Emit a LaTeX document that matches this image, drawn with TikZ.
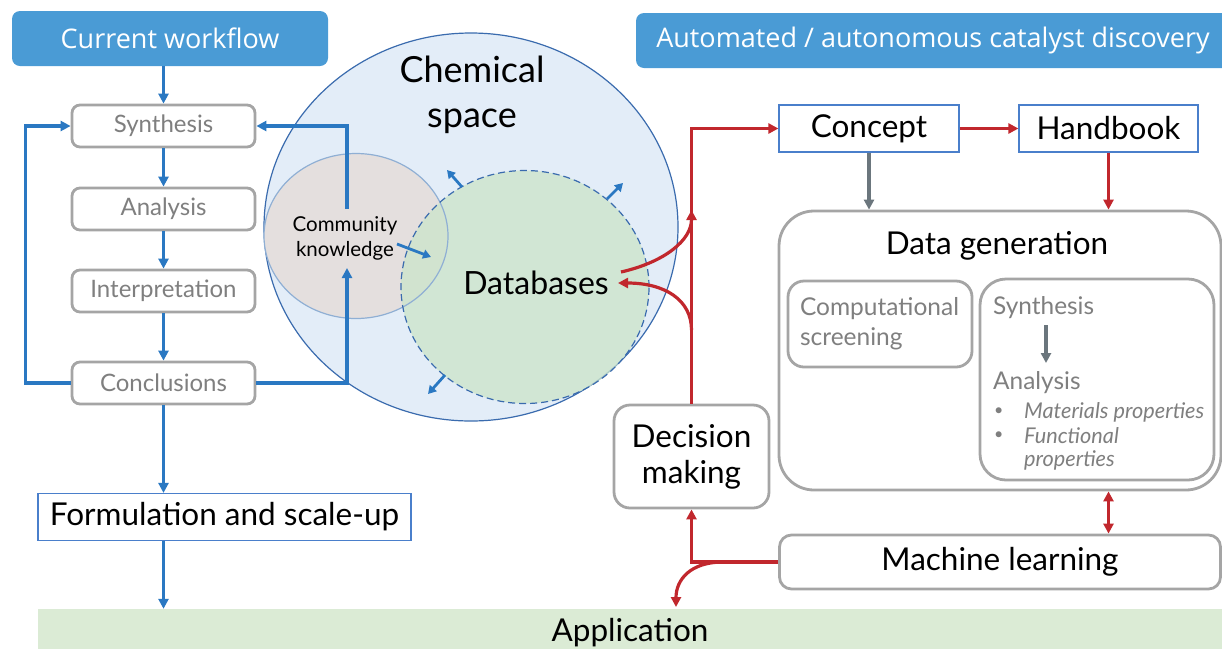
\documentclass[tikz,border=0pt]{standalone}
\usepackage{fontspec}
\setmainfont{Lato}
\newfontfamily\titlefont{Open Sans}
\usetikzlibrary{arrows.meta,shapes.geometric,calc}
\definecolor{titleblue}{HTML}{4A9BD5}
\definecolor{arrowblue}{HTML}{2A78C2}
\definecolor{boxgrey}{HTML}{A5A5A5}
\definecolor{textgrey}{HTML}{7F7F7F}
\definecolor{csfill}{HTML}{E3EDF8}
\definecolor{csborder}{HTML}{3A6BAE}
\definecolor{ckfill}{HTML}{E4DFDE}
\definecolor{ckborder}{HTML}{8FAFD4}
\definecolor{dbfill}{HTML}{CDE5CC}
\definecolor{redarrow}{HTML}{C1272D}
\definecolor{greyarrow}{HTML}{6B767D}
\definecolor{appgreen}{HTML}{DBEBD5}
\definecolor{thinblue}{HTML}{4A7FCB}
\newcommand{\fs}[2]{\fontsize{#1}{#2}\selectfont}
\begin{document}
\begin{tikzpicture}[x=1pt,y=-1pt,
  titlebox/.style={fill=titleblue, draw=none, rounded corners=8pt, text=white, font=\titlefont\fs{27}{32}, inner sep=0pt},
  greybox/.style={draw=boxgrey, line width=2.8pt, rounded corners=8pt, fill=white, text=textgrey, inner sep=0pt, font=\fs{24}{28}},
  bigbox/.style={draw=boxgrey, line width=2.8pt, fill=white, inner sep=0pt, font=\fs{31.5}{36}, align=center},
  thinbox/.style={draw=thinblue, line width=1.2pt, fill=white, inner sep=0pt, font=\fs{31.5}{36}},
  barrow/.style={draw=arrowblue, line width=3.2pt, -{Triangle[length=10pt,width=10pt]}},
  rarrow/.style={draw=redarrow, line width=3.2pt, -{Triangle[length=10pt,width=10pt]}},
  garrow/.style={draw=greyarrow, line width=3.2pt, -{Triangle[length=10pt,width=10pt]}},
  smallarrow/.style={draw=arrowblue, line width=2.8pt, -{Triangle[length=8pt,width=9pt]}},
  plain/.style={inner sep=0pt, anchor=west}
]
\useasboundingbox (0,0) rectangle (1222,649);

% ---------- titles ----------
\node[titlebox, minimum width=316, minimum height=55] (cw) at (170,38.5) {Current workflow};
\begin{scope}
\clip (0,0) rectangle (1222,649);
\node[titlebox, minimum width=594, minimum height=55] (auto) at (933,40.5) {Automated / autonomous catalyst discovery};
\end{scope}

% ---------- chemical space ----------
\node[ellipse, fill=csfill, draw=csborder, line width=1.2pt, minimum width=414, minimum height=388, inner sep=0pt] (cs) at (471,227) {};
\node[ellipse, fill=ckfill, draw=none, minimum width=184, minimum height=165, inner sep=0pt] (ckfill) at (356,236) {};
\node[ellipse, fill=dbfill, fill opacity=0.8, draw=none, minimum width=248, minimum height=233, inner sep=0pt] (dbc) at (525,287) {};
\node[ellipse, draw=ckborder, line width=1.2pt, minimum width=184, minimum height=165, inner sep=0pt] (ck) at (356,236) {};
\node[ellipse, draw=csborder, line width=1.2pt, dashed, dash pattern=on 7pt off 4pt, minimum width=248, minimum height=233, inner sep=0pt] (db) at (525,287) {};

\node[align=center, font=\fs{36}{45}, inner sep=0pt] (cst) at (472,95) {Chemical\\space};
\node[align=center, font=\fs{20.5}{25}, inner sep=0pt] (ckt) at (345,238) {Community\\knowledge};
\node[font=\fs{32}{36}, inner sep=0pt] (dbt) at (536,283) {Databases};

\coordinate (a1s) at (462,187); \coordinate (a1e) at (447,170);
\coordinate (a2s) at (607,199); \coordinate (a2e) at (623,183);
\coordinate (a3s) at (445,375); \coordinate (a3e) at (428,394);
\coordinate (a4s) at (397,244); \coordinate (a4e) at (431,257);
\draw[smallarrow] (a1s) -- (a1e);
\draw[smallarrow] (a2s) -- (a2e);
\draw[smallarrow] (a3s) -- (a3e);
\draw[smallarrow] (a4s) -- (a4e);

% ---------- current workflow ----------
\node[greybox, minimum width=183, minimum height=42] (syn) at (163.5,126) {Synthesis};
\node[greybox, minimum width=183, minimum height=42] (ana) at (163.5,209) {Analysis};
\node[greybox, minimum width=183, minimum height=42] (int) at (163.5,291) {Interpretation};
\node[greybox, minimum width=183, minimum height=42] (con) at (163.5,383) {Conclusions};
\node[thinbox, minimum width=373, minimum height=47] (form) at (224.5,517) {Formulation and scale-up};
\node[fill=appgreen, minimum width=1184, minimum height=40, inner sep=0pt] (app) at (630,629) {};
\node[font=\fs{31.5}{36}, inner sep=0pt] (appt) at (630,632.5) {Application};

\draw[barrow] (syn.north |- cw.south) -- (syn.north);
\draw[barrow] (syn) -- (ana);
\draw[barrow] (ana) -- (int);
\draw[barrow] (int) -- (con);
\draw[barrow] (con.south) -- (con.south |- form.north);
\draw[barrow] (con.south |- form.south) -- (con.south |- app.north);
\draw[barrow] (con.west) -- ++(-45,0) |- (syn.west);
\coordinate (ckin) at (347,268);
\coordinate (ckout) at (347,209);
\draw[barrow] (con.east) -| (ckin);
\draw[barrow] (ckout) |- (syn.east);

% ---------- automated workflow ----------
\node[thinbox, minimum width=180, minimum height=47] (concept) at (869,128.5) {Concept};
\node[thinbox, minimum width=179, minimum height=47] (hb) at (1108.5,128.5) {Handbook};
\node[bigbox, rounded corners=35pt, minimum width=442, minimum height=279] (dg) at (1000,350.5) {};
\node[font=\fs{31.5}{36}, inner sep=0pt] (dgt) at (997,246) {Data generation};
\node[greybox, rounded corners=16pt, minimum width=184, minimum height=86, text width=160, inner xsep=12pt, align=left, font=\fs{24.5}{30}] (comp) at (880,324) {Computational\\screening};
\node[greybox, rounded corners=26pt, minimum width=234, minimum height=201] (sa) at (1097,379.5) {};
\node[plain, text=textgrey, font=\fs{24.4}{28}] (sas) at (993,308) {Synthesis};
\node[plain, text=textgrey, font=\fs{24.4}{28}] (saa) at (993,383) {Analysis};
\coordinate (sarr1) at (1046,325);
\coordinate (sarr2) at (1046,363);
\draw[garrow] (sarr1) -- (sarr2);
\node[plain, text=textgrey, font=\fs{16}{20}] (b1) at (994,412) {•};
\node[plain, text=textgrey, font=\fs{16}{20}] (b2) at (994,436) {•};
\node[plain, text=textgrey, font=\itshape\fs{21.7}{24}] (m1) at (1024,412) {Materials properties};
\node[plain, text=textgrey, font=\itshape\fs{21.7}{24}] (m2) at (1024,436) {Functional};
\node[plain, text=textgrey, font=\itshape\fs{21.7}{24}] (m3) at (1024,460) {properties};

\node[bigbox, rounded corners=16pt, minimum width=155, minimum height=103] (dm) at (691.5,456.5) {Decision\\making};
\node[bigbox, rounded corners=12pt, minimum width=441, minimum height=54] (ml) at (1000,562) {Machine learning};

\coordinate (top) at (691.5,128.5);
\draw[rarrow] (dm.north) -- (top) -- (concept.west);
\draw[rarrow] (concept) -- (hb);
\draw[garrow] (concept.south) -- (concept.south |- dg.north);
\draw[rarrow] (hb.south) -- (hb.south |- dg.north);
\coordinate (dbout) at (621,272);
\coordinate (vin) at (691.5,210);
\coordinate (vout) at (691.5,330);
\coordinate (dbin) at (618,283);
\draw[rarrow] (dbout) .. controls (665,262) and (691.5,240) .. (vin);
\draw[rarrow] (vout) .. controls (691.5,300) and (665,283) .. (dbin);
\draw[rarrow, {Triangle[length=10pt,width=10pt]}-{Triangle[length=10pt,width=10pt]}] (dg.south -| hb.south) -- (ml.north -| hb.south);
\coordinate (junc) at (691.5,562);
\coordinate (bstart) at (723,562);
\coordinate (bend) at (676,607);
\draw[rarrow] (ml.west) -- (junc) -- (dm.south);
\draw[rarrow] (bstart) .. controls (690,562) and (676,580) .. (bend);
\end{tikzpicture}
\end{document}
